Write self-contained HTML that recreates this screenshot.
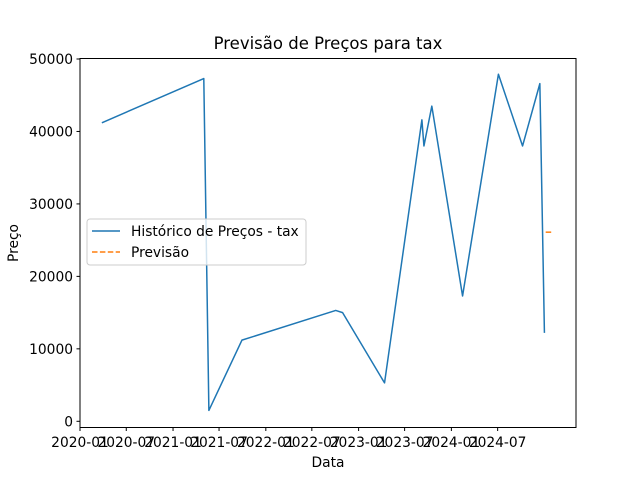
<!DOCTYPE html>
<html><head><meta charset="utf-8"><style>
body{margin:0;background:#fff}
svg{display:block;font-family:"DejaVu Sans","Liberation Sans",sans-serif}
</style></head><body>
<svg id="chart" width="640" height="480" xmlns="http://www.w3.org/2000/svg">
<rect width="640" height="480" fill="#fff"/>
<text x="328" y="49" font-size="16.5" text-anchor="middle">Previsão de Preços para tax</text>
<text x="328" y="467" font-size="13.8" text-anchor="middle">Data</text>
<text x="0" y="0" font-size="13.8" text-anchor="middle" transform="translate(18,243) rotate(-90)">Preço</text>
<g id="grid"></g>
<g id="marks"></g>
<rect x="80" y="58.5" width="496" height="369" fill="none" stroke="#000" stroke-width="1"/>
<g id="legend">
<rect x="87" y="219" width="219" height="46" rx="3" fill="#fff" fill-opacity="0.8" stroke="#ccc"/>
<line x1="92" y1="231" x2="120" y2="231" stroke="#1f77b4" stroke-width="1.5"/>
<text x="131" y="236" font-size="13.8">Histórico de Preços - tax</text>
<line x1="92" y1="252" x2="120" y2="252" stroke="#ff7f0e" stroke-width="1.5" stroke-dasharray="5.5,2.4"/>
<text x="131" y="257" font-size="13.8">Previsão</text>
</g>
</svg>
<script>
const histDates = ["2020-03-27","2021-05-02","2021-05-22","2021-09-29","2022-10-03","2022-10-30","2023-04-13","2023-09-07","2023-09-15","2023-10-16","2024-02-14","2024-07-04","2024-10-07","2024-12-14","2025-01-01"];
const histValues = [41200,47300,1500,11200,15300,15000,5300,41600,38000,43500,17300,47900,38000,46600,12200];
const fcDates = ["2025-01-06","2025-02-04"];
const fcValues = [26100,26100];
const yTicks = [0,10000,20000,30000,40000,50000];
const xTickLabels = ["2020-01","2020-07","2021-01","2021-07","2022-01","2022-07","2023-01","2023-07","2024-01","2024-07"];

const NS="http://www.w3.org/2000/svg";
const t0=Date.UTC(2020,0,1);
function days(s){const p=s.split("-").map(Number);return (Date.UTC(p[0],p[1]-1,p[2]||1)-t0)/86400000;}
function xs(s){return 80+days(s)*0.2542;}
function ys(v){return 421.3-v*0.007246;}
function el(tag,attrs,parent){const e=document.createElementNS(NS,tag);for(const k in attrs)e.setAttribute(k,attrs[k]);parent.appendChild(e);return e;}
const grid=document.getElementById("grid"), marks=document.getElementById("marks");
yTicks.forEach(v=>{
  const y=ys(v);
  const l=el("line",{x1:76.5,x2:80,y1:y,y2:y,stroke:"#000"},grid);
  
  
  const t=el("text",{x:73,y:y+5,"font-size":13.8,"text-anchor":"end"},grid);
  
  
  t.textContent=v;
});
xTickLabels.forEach(s=>{
  const x=xs(s);
  const l=el("line",{x1:x,x2:x,y1:427.5,y2:431,stroke:"#000"},grid);
  
  
  const t=el("text",{x:x,y:447,"font-size":13.8,"text-anchor":"middle"},grid);
  
  
  t.textContent=s;
});
const hp=el("polyline",{points:histDates.map((d,i)=>xs(d)+","+ys(histValues[i])).join(" "),fill:"none",stroke:"#1f77b4","stroke-width":1.5,"stroke-linejoin":"round"},marks);


const fp=el("polyline",{points:fcDates.map((d,i)=>xs(d)+","+ys(fcValues[i])).join(" "),fill:"none",stroke:"#ff7f0e","stroke-width":1.5,"stroke-dasharray":"5.5,2.4"},marks);


</script>
</body></html>
